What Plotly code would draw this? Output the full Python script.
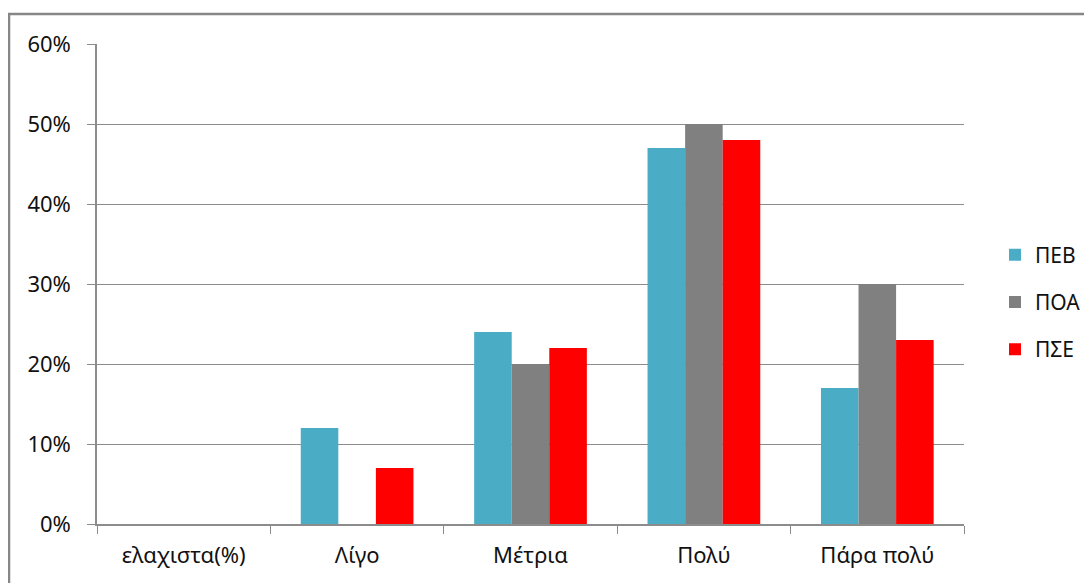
import plotly.graph_objects as go

categories = ["ελαχιστα(%)", "Λίγο", "Μέτρια", "Πολύ", "Πάρα πολύ"]
series_names = ["ΠΕΒ", "ΠΟΑ", "ΠΣΕ"]
peb = [0, 0.12, 0.24, 0.47, 0.17]
poa = [0, 0, 0.20, 0.50, 0.30]
pse = [0, 0.07, 0.22, 0.48, 0.23]
colors = ["#4BACC6", "#808080", "#FF0000"]

# page body has an 8px margin, so the figure is drawn 8px smaller and offset
OFF = 8
W, H = 1092 - OFF, 583 - OFF
ml, mr, mt, mb = 97 - OFF, 1092 - 964, 44 - OFF, 583 - 524
pw = W - ml - mr
ph = H - mt - mb

def px_x(x):
    return (x - OFF - ml) / pw

def px_y(y):
    return (mt + ph - (y - OFF)) / ph

fig = go.Figure()
for i, (name, vals) in enumerate(zip(series_names, [peb, poa, pse])):
    fig.add_trace(go.Bar(x=categories, y=vals, name=name, marker_color=colors[i],
                         marker_line_width=0, legendgroup=name))

font = "Noto Sans, Liberation Sans, sans-serif"
fig.update_layout(
    width=W, height=H,
    margin=dict(l=ml, r=mr, t=mt, b=mb, autoexpand=False),
    paper_bgcolor="white", plot_bgcolor="white",
    barmode="group", bargap=0.35, bargroupgap=0,
    font=dict(family=font, size=22, color="#111111"),
    legend=dict(x=px_x(995), y=px_y(302), xanchor="left", yanchor="middle",
                traceorder="grouped", tracegroupgap=17,
                font=dict(size=21, color="#111111"), itemwidth=30),
    xaxis=dict(showline=True, linecolor="#8c8c8c", linewidth=1.5, ticks="outside",
               tickson="boundaries", ticklen=8, tickcolor="#8c8c8c", showgrid=False,
               tickfont=dict(size=22), ticklabelstandoff=11),
    yaxis=dict(range=[0, 0.6], dtick=0.1, tickformat=".0%", showgrid=True,
               gridcolor="#8c8c8c", gridwidth=1.2, showline=True, linecolor="#8c8c8c",
               linewidth=1.5, ticks="outside", ticklen=8, tickcolor="#8c8c8c",
               zeroline=False, tickfont=dict(size=22), ticklabelstandoff=12),
    shapes=[dict(type="rect", xref="paper", yref="paper",
                 x0=px_x(9), x1=px_x(1110),
                 y0=px_y(600), y1=px_y(14),
                 line=dict(color="#868686", width=2.5), fillcolor="rgba(0,0,0,0)", layer="below")],
)
fig.write_html("out.html")
